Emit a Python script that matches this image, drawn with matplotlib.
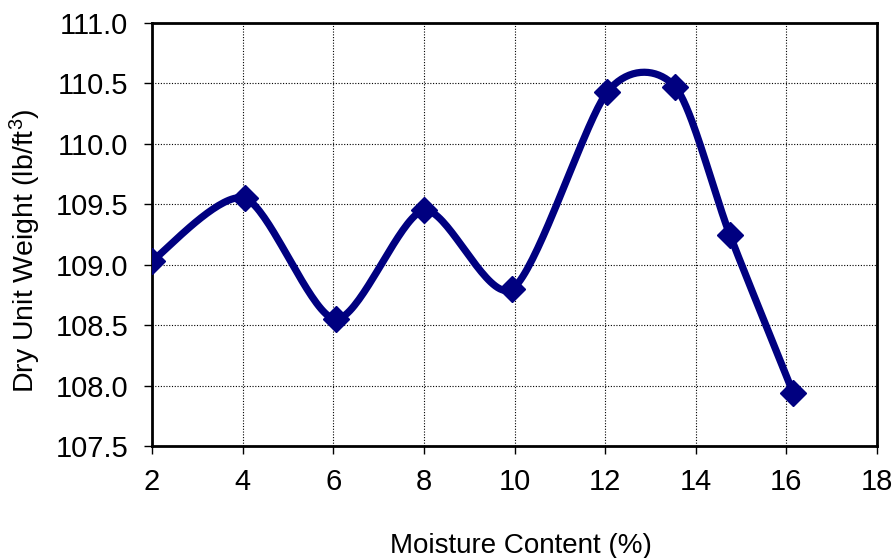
import numpy as np
import matplotlib
matplotlib.use("Agg")
import matplotlib.pyplot as plt

moisture = [2.0, 4.05, 6.05, 8.0, 9.95, 12.05, 13.55, 14.75, 16.15]
dry_unit_weight = [109.03, 109.55, 108.55, 109.45, 108.80, 110.43, 110.47, 109.25, 107.94]
x_ticks = [2, 4, 6, 8, 10, 12, 14, 16, 18]
y_ticks = [107.5, 108.0, 108.5, 109.0, 109.5, 110.0, 110.5, 111.0]

plt.rcParams['font.family'] = ['Liberation Sans', 'DejaVu Sans']
plt.rcParams['mathtext.fontset'] = 'custom'
plt.rcParams['mathtext.rm'] = 'Liberation Sans'
plt.rcParams['mathtext.it'] = 'Liberation Sans'
plt.rcParams['mathtext.default'] = 'regular'

fig = plt.figure(figsize=(8.96, 5.58), dpi=100)
ax = fig.add_axes([152/896, 1-446/558, (877-152)/896, (446-23)/558])

# Excel-like smoothed curve (cubic Bezier, Catmull-Rom tangents)
def smooth_curve(xs, ys, n=40):
    P = np.column_stack([xs, ys])
    ext = np.vstack([P[0], P, P[-1]])
    out = []
    for i in range(len(P) - 1):
        p0, p1, p2, p3 = ext[i], ext[i+1], ext[i+2], ext[i+3]
        c1 = p1 + (p2 - p0) / 7.5
        c2 = p2 - (p3 - p1) / 7.5
        t = np.linspace(0, 1, n)[:, None]
        seg = (1-t)**3*p1 + 3*(1-t)**2*t*c1 + 3*(1-t)*t**2*c2 + t**3*p2
        out.append(seg if i == 0 else seg[1:])
    return np.vstack(out)

curve = smooth_curve(moisture, dry_unit_weight)
navy = '#000080'
ax.plot(curve[:, 0], curve[:, 1], color=navy, lw=5.2, solid_capstyle='round', zorder=3)
ax.plot(moisture, dry_unit_weight, linestyle='none', marker='D', ms=13,
        color=navy, zorder=4)

ax.set_xlim(2, 18)
ax.set_ylim(107.5, 111.0)
ax.set_xticks(x_ticks)
ax.set_yticks(y_ticks)
ax.set_yticklabels([f"{v:.1f}" for v in y_ticks])
ax.grid(True, color='black', linestyle=(0, (1, 1.5)), linewidth=0.8)
ax.set_axisbelow(True)
for s in ax.spines.values():
    s.set_linewidth(2)
ax.tick_params(axis='both', labelsize=21, length=6, width=1, direction='out', pad=11)
ax.tick_params(axis='x', pad=10)
ax.set_xlabel('Moisture Content (%)', fontsize=20)
ax.set_ylabel('Dry Unit Weight (lb/ft$^3$)', fontsize=20.5)
ax.xaxis.set_label_coords(0.509, -0.206)
ax.yaxis.set_label_coords(-0.151, 0.461)

fig.savefig('out.png', dpi=100)
